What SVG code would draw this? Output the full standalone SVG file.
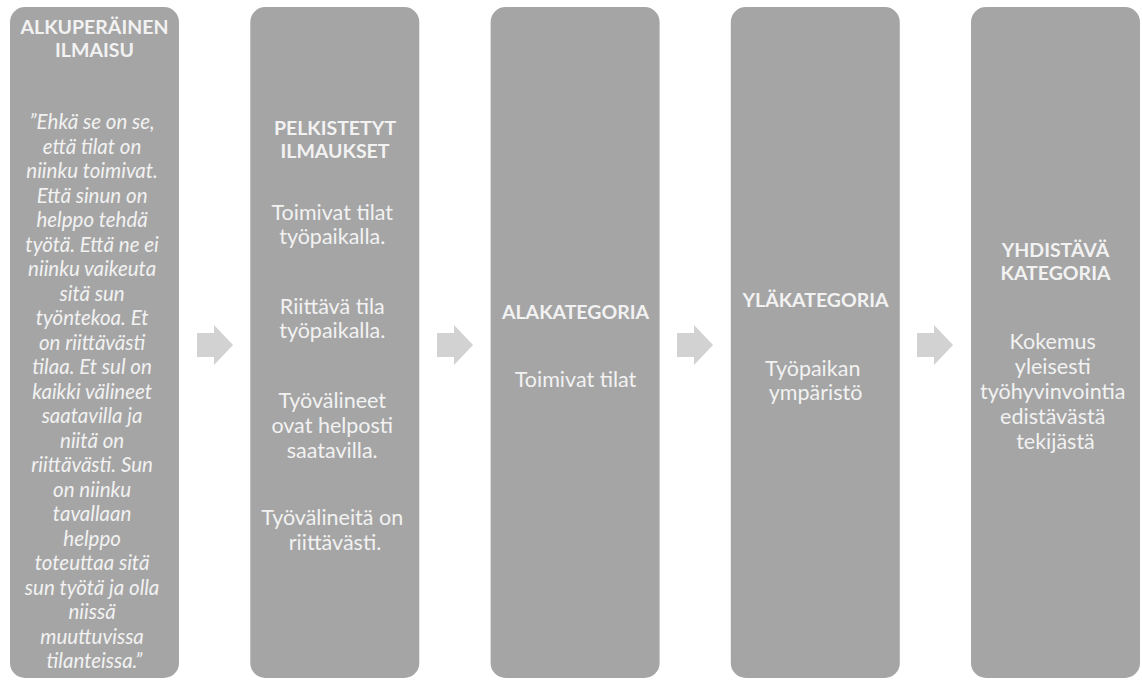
<svg xmlns="http://www.w3.org/2000/svg" width="1142" height="682" viewBox="0 0 1142 682">
  <defs>
    <style>
      .box { fill: #a5a5a5; }
      .arrow { fill: #d2d2d2; }
      text { font-family: Lato, "Open Sans", "Liberation Sans", sans-serif; fill: #f2f2f2; text-anchor: middle; }
      .head { font-weight: bold; font-size: 19.5px; }
      .body { font-size: 21.5px; }
      .quote { font-size: 20.5px; font-style: italic; }
    </style>
    <path id="chevron" d="M0,333 H17 V325 L36,345 L17,365 V357 H0 Z"/>
  </defs>

  <rect width="1142" height="682" fill="#ffffff"/>

  <!-- connectors: block arrows between columns -->
  <g id="connectors">
    <use href="#chevron" class="arrow" x="197"/>
    <use href="#chevron" class="arrow" x="437"/>
    <use href="#chevron" class="arrow" x="677"/>
    <use href="#chevron" class="arrow" x="917"/>
  </g>

  <!-- column 1: original expression -->
  <g id="node-alkuperainen">
    <rect class="box" x="10" y="7" width="169" height="671" rx="15"/>
    <text class="head" x="94.5" y="34">ALKUPERÄINEN</text>
    <text class="head" x="94.5" y="57">ILMAISU</text>
    <text class="quote" x="94.5">
      <tspan x="94.5" y="129">”Ehkä se on se,</tspan>
      <tspan x="94.5" y="153.5">että tilat on</tspan>
      <tspan x="94.5" y="178">niinku toimivat.</tspan>
      <tspan x="94.5" y="202.5">Että sinun on</tspan>
      <tspan x="94.5" y="227">helppo tehdä</tspan>
      <tspan x="94.5" y="251.5">työtä. Että ne ei</tspan>
      <tspan x="94.5" y="276">niinku vaikeuta</tspan>
      <tspan x="94.5" y="300.5">sitä sun</tspan>
      <tspan x="94.5" y="325">työntekoa. Et</tspan>
      <tspan x="94.5" y="349.5">on riittävästi</tspan>
      <tspan x="94.5" y="374">tilaa. Et sul on</tspan>
      <tspan x="94.5" y="398.5">kaikki välineet</tspan>
      <tspan x="94.5" y="423">saatavilla ja</tspan>
      <tspan x="94.5" y="447.5">niitä on</tspan>
      <tspan x="94.5" y="472">riittävästi. Sun</tspan>
      <tspan x="94.5" y="496.5">on niinku</tspan>
      <tspan x="94.5" y="521">tavallaan</tspan>
      <tspan x="94.5" y="545.5">helppo</tspan>
      <tspan x="94.5" y="570">toteuttaa sitä</tspan>
      <tspan x="94.5" y="594.5">sun työtä ja olla</tspan>
      <tspan x="94.5" y="619">niissä</tspan>
      <tspan x="94.5" y="643.5">muuttuvissa</tspan>
      <tspan x="94.5" y="668">tilanteissa.”</tspan>
    </text>
  </g>

  <!-- column 2: reduced expressions -->
  <g id="node-pelkistetyt">
    <rect class="box" x="250.3" y="7" width="169" height="671" rx="15"/>
    <text class="head" x="335" y="135">PELKISTETYT</text>
    <text class="head" x="335" y="158">ILMAUKSET</text>
    <text class="body" x="335">
      <tspan x="335" y="220">Toimivat tilat</tspan>
      <tspan x="335" y="244">työpaikalla.</tspan>
      <tspan x="335" y="314">Riittävä tila</tspan>
      <tspan x="335" y="338">työpaikalla.</tspan>
      <tspan x="335" y="408">Työvälineet</tspan>
      <tspan x="335" y="433">ovat helposti</tspan>
      <tspan x="335" y="458">saatavilla.</tspan>
      <tspan x="335" y="525">Työvälineitä on</tspan>
      <tspan x="335" y="550">riittävästi.</tspan>
    </text>
  </g>

  <!-- column 3: subcategory -->
  <g id="node-alakategoria">
    <rect class="box" x="490.6" y="7" width="169" height="671" rx="15"/>
    <text class="head" x="575.5" y="319">ALAKATEGORIA</text>
    <text class="body" x="575.5" y="387">Toimivat tilat</text>
  </g>

  <!-- column 4: upper category -->
  <g id="node-ylakategoria">
    <rect class="box" x="730.8" y="7" width="169" height="671" rx="15"/>
    <text class="head" x="815.5" y="307">YLÄKATEGORIA</text>
    <text class="body" x="815.5">
      <tspan x="815.5" y="376">Työpaikan</tspan>
      <tspan x="815.5" y="400">ympäristö</tspan>
    </text>
  </g>

  <!-- column 5: combining category -->
  <g id="node-yhdistava">
    <rect class="box" x="971" y="7" width="169" height="671" rx="15"/>
    <text class="head" x="1055.5" y="257">YHDISTÄVÄ</text>
    <text class="head" x="1055.5" y="280">KATEGORIA</text>
    <text class="body" x="1055.5">
      <tspan x="1055.5" y="349">Kokemus</tspan>
      <tspan x="1055.5" y="374">yleisesti</tspan>
      <tspan x="1055.5" y="399">työhyvinvointia</tspan>
      <tspan x="1055.5" y="424">edistävästä</tspan>
      <tspan x="1055.5" y="449">tekijästä</tspan>
    </text>
  </g>
</svg>
